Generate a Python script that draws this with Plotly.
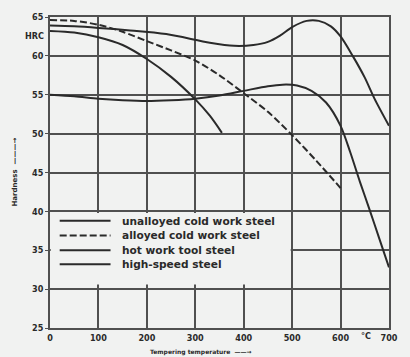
import plotly.graph_objects as go

# ---- data ----
series_names = [
    "unalloyed cold work steel",
    "alloyed cold work steel",
    "hot work tool steel",
    "high-speed steel",
]

unalloyed_x = [0, 50, 100, 150, 200, 250, 300, 330, 355]
unalloyed_y = [63.2, 63.0, 62.4, 61.4, 59.6, 57.3, 54.4, 52.3, 50.1]

alloyed_x = [0, 50, 100, 150, 200, 250, 300, 350, 400, 450, 500, 550, 600]
alloyed_y = [64.6, 64.5, 64.0, 63.1, 61.9, 60.7, 59.4, 57.5, 55.2, 52.8, 49.8, 46.5, 43.0]

hot_x = [0, 50, 100, 150, 200, 250, 300, 350, 400, 450, 480, 510, 540, 570, 600, 620, 640, 660, 680, 700]
hot_y = [55.0, 54.8, 54.5, 54.3, 54.2, 54.3, 54.5, 54.9, 55.5, 56.1, 56.3, 56.2, 55.5, 54.0, 51.0, 47.6, 43.8, 40.2, 36.5, 32.8]

speed_x = [0, 50, 100, 160, 240, 330, 380, 420, 450, 475, 500, 530, 555, 580, 600, 625, 650, 670, 700]
speed_y = [63.9, 63.8, 63.6, 63.3, 62.8, 61.7, 61.3, 61.4, 61.8, 62.6, 63.7, 64.5, 64.5, 63.8, 62.5, 60.0, 57.2, 54.5, 51.0]

x_ticks = [0, 100, 200, 300, 400, 500, 600, 700]
y_ticks = [25, 30, 35, 40, 45, 50, 55, 60, 65]

BG = "#f1f2f1"
INK = "#2a2a2a"
GRID = "#505050"
FONT = "Liberation Sans Narrow, DejaVu Sans Condensed, DejaVu Sans, sans-serif"
LFONT = "DejaVu Sans, sans-serif"

xs = [unalloyed_x, alloyed_x, hot_x, speed_x]
ys = [unalloyed_y, alloyed_y, hot_y, speed_y]
dashes = ["solid", "7px,3px", "solid", "solid"]

fig = go.Figure()
for name, x, y, d in zip(series_names, xs, ys, dashes):
    fig.add_trace(go.Scatter(
        x=x, y=y, mode="lines", name=name,
        line=dict(color=INK, width=2, dash=d, shape="spline", smoothing=0.8),
        showlegend=False, hoverinfo="skip",
    ))

# plain box behind the legend (hides the grid there)
fig.add_shape(type="rect", xref="x", yref="y", x0=1.5, x1=497, y0=30.6, y1=39.8,
              fillcolor=BG, line=dict(width=0), layer="between")

# legend drawn as sample lines and labels
legend_rows = [38.8, 36.9, 35.0, 33.2]
for name, d, ry in zip(series_names, dashes, legend_rows):
    fig.add_shape(type="line", xref="x", yref="y", x0=20, x1=125, y0=ry, y1=ry,
                  line=dict(color=INK, width=2, dash=d), layer="above")
    fig.add_annotation(x=145, y=ry, xref="x", yref="y", text=name, showarrow=False,
                       xanchor="left", yanchor="middle",
                       font=dict(family=LFONT, size=10.6, color=INK, weight="bold"))

fig.add_annotation(x=0, y=62.6, xref="paper", yref="y", text="HRC", showarrow=False,
                   xanchor="right", yanchor="middle", xshift=-4,
                   font=dict(family=FONT, size=9, color=INK, weight="bold"))
fig.add_annotation(x=652, y=0, xref="x", yref="paper", text="°C", showarrow=False,
                   xanchor="center", yanchor="top", yshift=-1,
                   font=dict(family=FONT, size=9, color=INK, weight="bold"))
fig.add_annotation(x=312, y=0, xref="x", yref="paper", text="Tempering temperature  ——→",
                   showarrow=False, xanchor="center", yanchor="top", yshift=-18,
                   font=dict(family=LFONT, size=6, color=INK, weight="bold"))
fig.add_annotation(x=0, y=45, xref="paper", yref="y", text="Hardness  ———→",
                   showarrow=False, textangle=-90, xanchor="center", yanchor="middle",
                   xshift=-36, font=dict(family=LFONT, size=7, color=INK, weight="bold"))

axis_common = dict(showgrid=True, gridcolor=GRID, gridwidth=1.7, zeroline=False,
                   showline=True, linecolor=GRID, linewidth=1.7, mirror=True,
                   tickfont=dict(family=FONT, size=9, color=INK, weight="bold"))

fig.update_xaxes(range=[0, 700], tickvals=x_ticks, ticktext=[str(v) for v in x_ticks],
                 ticks="", ticklabelstandoff=0, **axis_common)
fig.update_yaxes(range=[25, 65], tickvals=y_ticks, ticktext=[str(v) for v in y_ticks],
                 ticks="outside", ticklen=3, tickcolor=GRID, **axis_common)

fig.update_layout(
    width=410, height=357,
    margin=dict(l=50, r=13, t=16, b=29),
    paper_bgcolor=BG, plot_bgcolor=BG,
    showlegend=False,
)

fig.write_html("out.html", config={"displayModeBar": False},
               post_script="document.body.style.margin='0px';document.body.style.background='%s';" % BG)
